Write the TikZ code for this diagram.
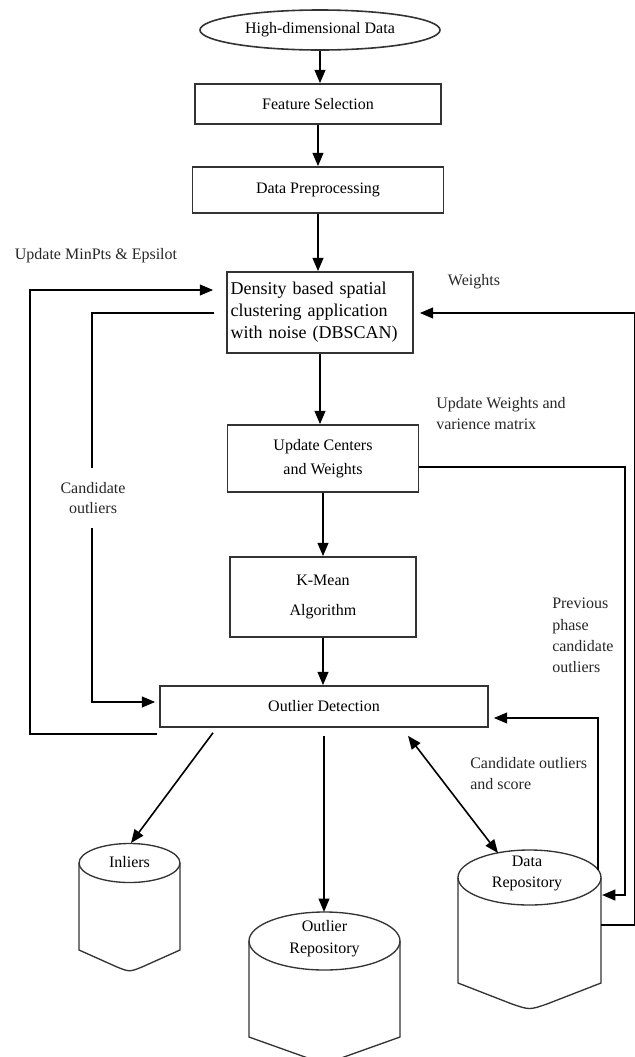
\documentclass[tikz,border=0pt]{standalone}
\usepackage{fontspec}
\setmainfont{Liberation Serif}
\usetikzlibrary{shapes.geometric,arrows.meta,calc}
\tikzset{box/.style={draw=black!80,line width=1.2pt,rectangle,inner sep=2pt,align=center},
         lbl/.style={text=black!85,align=left,inner sep=0pt},
         arr/.style={draw,line width=1.6pt,-{Triangle[length=10pt,width=8pt]}},
         store/.style={draw=black!80,line width=1pt}}

\begin{document}
\begin{tikzpicture}
        [x=0.75pt,y=-0.75pt,every node/.style={font=\fontsize{12}{15}\selectfont}]
        % pixel grid of the page, y grows downwards
        \clip (0,0) rectangle (635,1057);

        \node[box,ellipse,minimum width=180pt,minimum height=30pt,inner sep=0pt] (hd) at (320,30) {High-dimensional Data};
        \node[box,minimum width=184.5pt,minimum height=30pt] (fs) at (318,104) {Feature Selection};
        \node[box,minimum width=188.25pt,minimum height=34.5pt] (dp) at (318,190) {Data Preprocessing};
        \node[box,minimum width=139.5pt,minimum height=60.75pt,text width=134pt,align=left,font=\fontsize{13.5}{16.5}\selectfont] (db) at (320,312.5) {Density based spatial\\clustering application\\with noise (DBSCAN)};
        \node[box,minimum width=143.25pt,minimum height=50.25pt,font=\fontsize{12}{18}\selectfont] (uc) at (323,458.5) {Update Centers\\and Weights};
        \node[box,minimum width=139.5pt,minimum height=60pt,font=\fontsize{12}{22.5}\selectfont] (km) at (323,597) {K-Mean\\Algorithm};
        \node[box,minimum width=246pt,minimum height=30.75pt] (od) at (324,706.5) {Outlier Detection};

        % labels beside the lines
        \node[lbl] (mp) at (96,256) {Update MinPts \& Epsilot};
        \node[lbl] (wt) at (474,282) {Weights};
        \node[lbl,anchor=west,font=\fontsize{12}{15.75}\selectfont] (uw) at (436,413.5) {Update Weights and\\varience matrix};
        \node[lbl,anchor=west,font=\fontsize{12}{16}\selectfont] (pp) at (552,635.5) {Previous\\phase\\candidate\\outliers};
        \node[lbl,anchor=west,font=\fontsize{12}{15.75}\selectfont] (cs) at (470,773.5) {Candidate outliers\\and score};

        % the three stores
        \draw[store] (79,863) -- (79,950) -- (117,967) .. controls (129.5,972) .. (142,967) -- (180,950) -- (180,863);
        \draw[store] (129.5,863) ellipse [x radius=50.5,y radius=19.5];
        \draw[store] (249,941) -- (249,1037) -- (305,1057) .. controls (324.5,1064) .. (344,1057) -- (400,1037) -- (400,941);
        \draw[store] (324.5,941) ellipse [x radius=75.5,y radius=29];
        \draw[store] (458,877.5) -- (458,983) -- (512,1004) .. controls (529.5,1010) .. (547,1004) -- (601,983) -- (601,877.5);
        \draw[store] (529.5,877.5) ellipse [x radius=71.5,y radius=27.5];

        \node (inl) at (129.5,862) {Inliers};
        \node[align=center,font=\fontsize{12}{16}\selectfont] (orp) at (324.5,938.5) {Outlier\\Repository};
        \node[align=center,font=\fontsize{12}{16}\selectfont] (drp) at (527,873.5) {Data\\Repository};

        \coordinate (inltop) at (131,843);
        \coordinate (ortop) at (324,912);
        \coordinate (drtop) at (498,853);
        \coordinate (drin) at (602,895);
        \coordinate (drout) at (601,925);
        \coordinate (drup) at (598,870);

        % main flow
        \draw[arr] (hd) -- (hd |- fs.north);
        \draw[arr] (fs) -- (fs |- dp.north);
        \draw[arr] (dp) -- (dp |- db.north);
        \draw[arr] (db) -- (db |- uc.north);
        \draw[arr] (uc) -- (uc |- km.north);
        \draw[arr] (km) -- (km |- od.north);

        % feedback loops
        \draw[arr] ($(od.south west)+(-2,6)$) -- ++(-127,0) |- ($(db.west)+(-13,-22.5)$);
        \draw[arr] ($(db.west)+(-12,0.5)$) -| ($(od.west)+(-67,-4.5)$) -- ($(od.west)+(-4,-4.5)$);
        \draw[arr] (drout) -| ($(db.east)+(221,0.5)$) -- ($(db.east)+(6,0.5)$);
        \draw[arr] ($(uc.east)+(0,8.5)$) -| ($(drin)+(23,0)$) -- (drin);
        \draw[arr] (drup) |- ($(od.east)+(5,11.5)$);

        % outputs of the detection
        \draw[arr,line width=1.2pt,{Triangle[length=10pt,width=8pt]}-{Triangle[length=10pt,width=8pt]}] ($(od.south)+(84,8)$) -- (drtop);
        \draw[arr,line width=1.2pt] ($(od.south)+(-111,5)$) -- (inltop);
        \draw[arr,line width=1.2pt] ($(od.south)+(0,8)$) -- (ortop);

        \node[lbl,align=center,fill=white,inner ysep=11pt,inner xsep=1pt] (cand) at (93,498) {Candidate\\outliers};
\end{tikzpicture}
\end{document}
